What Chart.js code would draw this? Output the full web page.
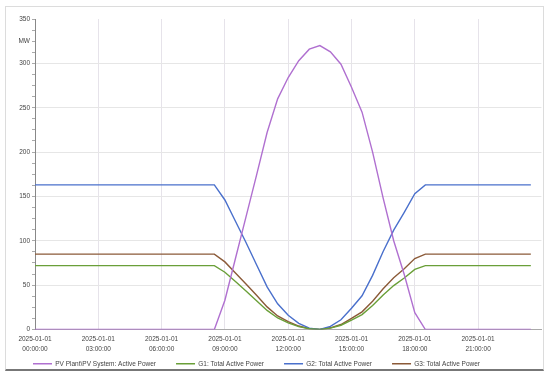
<!DOCTYPE html>
<html>
<head>
<meta charset="utf-8">
<script src="https://cdn.jsdelivr.net/npm/chart.js@4/dist/chart.umd.min.js"></script>
<style>
body{margin:0;background:#fff}
#wrap{position:relative;width:550px;height:377px}
#frame{position:absolute;left:5px;top:6px;width:537px;height:362px;border:1px solid #dcdcdc;border-bottom:2px solid #777}
canvas{position:absolute;left:0;top:0}
</style>
</head>
<body>
<div id="wrap">
<div id="frame"></div>
<canvas id="powerChart"></canvas>
</div>
<script>

// half-hour steps, hours of 2025-01-01
const hours = [
0,0.5,1,1.5,2,2.5,3,3.5,4,4.5,5,5.5,
6,6.5,7,7.5,8,8.5,9,9.5,10,10.5,11,11.5,
12,12.5,13,13.5,14,14.5,15,15.5,16,16.5,17,17.5,
18,18.5,19,19.5,20,20.5,21,21.5,22,22.5,23,23.5
]

const pv = [
0,0,0,0,0,0,0,0,0,0,0,0,
0,0,0,0,0,0,33,80,127,174,222,260,
284,303,316,320,313,299,273,245,200,148,100,62,
19,0,0,0,0,0,0,0,0,0,0,0
]

const g1 = [
72,72,72,72,72,72,72,72,72,72,72,72,
72,72,72,72,72,72,64.5,54,43.5,32.5,21.5,13,
7.5,3.3,0.8,0,1.5,4.8,10.6,16.8,27,39,49.5,58,
67.8,72,72,72,72,72,72,72,72,72,72,72
]

const g2 = [
163,163,163,163,163,163,163,163,163,163,163,163,
163,163,163,163,163,163,146,122,98,73,48,29,
16,7,1.5,0,3.5,11,24,38,61,88,112,132,
153,163,163,163,163,163,163,163,163,163,163,163
]

const g3 = [
85,85,85,85,85,85,85,85,85,85,85,85,
85,85,85,85,85,85,76.2,63.8,51.3,38.5,25.5,15.3,
8.8,3.9,1,0,1.9,5.6,12.5,19.9,31.9,46,58.4,68.5,
80,85,85,85,85,85,85,85,85,85,85,85
]

const seriesNames = [
"PV Plant\\PV System: Active Power",
"G1: Total Active Power",
"G2: Total Active Power",
"G3: Total Active Power"
]

const xTicks = [0,3,6,9,12,15,18,21]
const dateLabel = "2025-01-01"
const unitLabel = "MW"

function points(values){
return hours.map((h,i) => ({x:h, y:values[i]}))
}

function line(label, values, color){
return {
label:label,
data:points(values),
borderColor:color,
backgroundColor:color,
borderWidth:1.4,
pointRadius:0,
tension:0
}
}

const font = {family:"'Liberation Sans', Arial, sans-serif", size:6.5}

new Chart(
document.getElementById("powerChart"),
{
type:"line",
data:{
datasets:[
line(seriesNames[0], pv, "#b070d0"),
line(seriesNames[1], g1, "#6a9f38"),
line(seriesNames[2], g2, "#4a70cc"),
line(seriesNames[3], g3, "#8b5a38")
]
},
options:{
responsive:true,
maintainAspectRatio:false,
animation:false,
layout:{padding:{left:13, right:8.6, top:19, bottom:0}},
plugins:{
legend:{
position:"bottom",
align:"start",
labels:{
boxWidth:19,
boxHeight:0,
padding:20,
color:"#444",
font:font
}
},
tooltip:{enabled:false}
},
scales:{
x:{
type:"linear",
min:0,
max:24,
// keep the axis short so the legend sits close; let the two-line labels overflow
afterFit: s => { s.height = 11; s._computeLabelArea = () => undefined },
afterBuildTicks: s => { s.ticks = xTicks.map(v => ({value:v})) },
ticks:{
color:"#444",
padding:5,
maxRotation:0,
autoSkip:false,
font:{...font, lineHeight:1.5},
callback: v => [dateLabel, String(v).padStart(2,"0") + ":00:00"]
},
grid:{color:"#e6e3ea", drawTicks:false},
border:{color:"#aaa"}
},
y:{
min:0,
max:350,
afterFit: s => { s.width = 22 },
ticks:{
stepSize:12.5,
autoSkip:false,
color:"#444",
padding:2,
font:font,
callback: v => v % 50 === 0 ? v : (v === 325 ? unitLabel : "")
},
grid:{
color: c => (c.tick && c.tick.value % 50 === 0 && c.tick.value !== 350) ? "#e6e6e6" : "rgba(0,0,0,0)",
tickColor:"#aaa",
tickLength:3
},
border:{color:"#888"}
}
}
}
})

</script>
</body>
</html>
